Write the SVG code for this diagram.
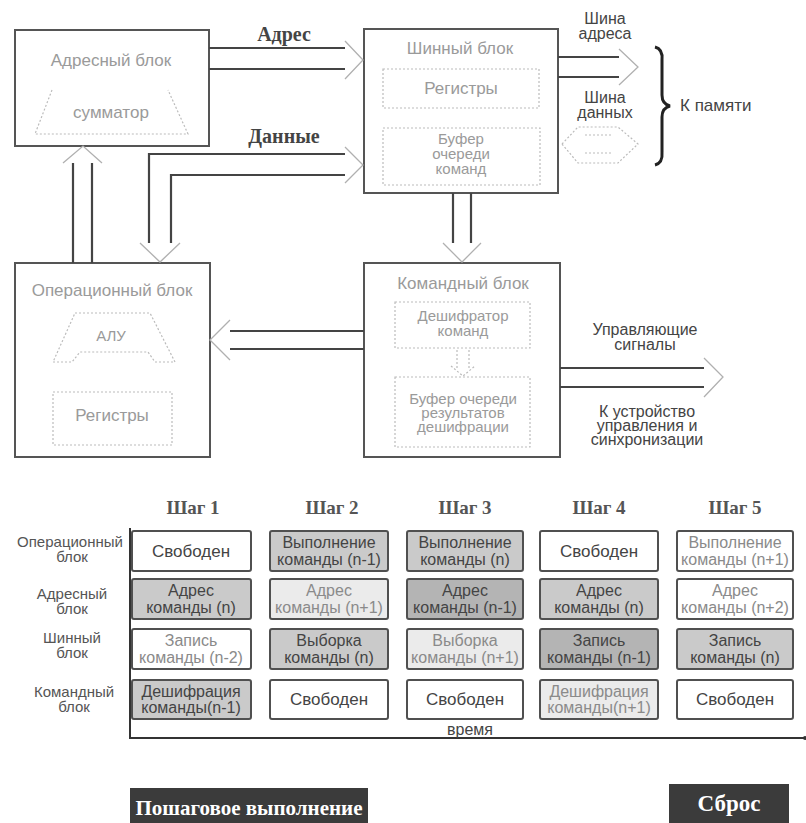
<svg xmlns="http://www.w3.org/2000/svg" width="806" height="823" viewBox="0 0 806 823">
<style>
text{font-family:"Liberation Sans",Arial,sans-serif;text-anchor:middle}
.box{fill:#fff;stroke:#555;stroke-width:2}
.inner{fill:none;stroke:#bbb;stroke-width:1.2;stroke-dasharray:2 2}
.title{font-size:17px;fill:#9a9a9a}
.itxt{font-size:15px;fill:#9a9a9a}
.shaft{stroke:#444;stroke-width:2.2;fill:none}
.head{stroke:#b0b0b0;stroke-width:1.3;fill:none}
.lbl{font-size:16px;fill:#444}
.bold{font-family:"Liberation Serif","Times New Roman",serif;font-weight:bold;font-size:20px;fill:#444}
.step{font-family:"Liberation Serif","Times New Roman",serif;font-weight:bold;font-size:19px;fill:#555}
.cell{stroke:#505050;stroke-width:2}
.w{fill:#fff}.g{fill:#cacaca}.l{fill:#ebebeb}.d{fill:#b4b4b4}
.ct{font-size:16px;fill:#444}
.cl{font-size:16px;fill:#8a8a8a}
.cs{font-size:17px;fill:#444}
.rl{font-size:15px;fill:#555}
.btn{fill:#3b3b3b}
.bt{font-family:"Liberation Serif","Times New Roman",serif;font-weight:bold;font-size:21px;fill:#fff}
</style>

<g id="addr-block">
<rect class="box" x="15" y="30" width="194" height="116"/>
<text class="title" x="111" y="66">Адресный блок</text>
<path class="inner" d="M52,90 L35,134 L188,134 L168,90"/>
<text class="title" x="111" y="118">сумматор</text>
</g>

<g id="bus-block">
<rect class="box" x="364" y="29" width="194" height="164"/>
<text class="title" x="460" y="54">Шинный блок</text>
<rect class="inner" x="383" y="69" width="156" height="39"/>
<text class="title" x="461" y="94">Регистры</text>
<rect class="inner" x="383" y="128" width="157" height="57"/>
<text class="itxt" x="461" y="144">Буфер</text>
<text class="itxt" x="461" y="159">очереди</text>
<text class="itxt" x="461" y="174">команд</text>
</g>

<g id="op-block">
<rect class="box" x="15" y="263" width="195" height="194"/>
<text class="title" x="112" y="296">Операционный блок</text>
<path class="inner" d="M75,313 L150,313 L175,362 L155,362 L148,352 L80,352 L72,362 L53,362 Z"/>
<text class="itxt" x="111" y="341">АЛУ</text>
<rect class="inner" x="53" y="392" width="119" height="53"/>
<text class="title" x="112" y="421">Регистры</text>
</g>

<g id="cmd-block">
<rect class="box" x="364" y="263" width="196" height="194"/>
<text class="title" x="463" y="289">Командный блок</text>
<rect class="inner" x="395" y="302" width="135" height="46"/>
<text class="itxt" x="463" y="321">Дешифратор</text>
<text class="itxt" x="463" y="336">команд</text>
<path class="inner" d="M457,350 L457,368 M469,350 L469,368 M451,366 L463,376 L475,366"/>
<rect class="inner" x="395" y="377" width="135" height="70"/>
<text class="itxt" x="463" y="404">Буфер очереди</text>
<text class="itxt" x="463" y="418">результатов</text>
<text class="itxt" x="463" y="432">дешифрации</text>
</g>

<g id="connectors">
<path class="shaft" d="M209,48 L345,48 M209,69 L345,69"/>
<polyline class="head" points="345,41 363,60 345,79"/>
<text class="bold" x="284" y="41">Адрес</text>
<path class="shaft" d="M345,154 L149,154 L149,243 M345,175 L171,175 L171,243"/>
<polyline class="head" points="345,147 363,165 345,183"/>
<polyline class="head" points="140,243 160,262 180,243"/>
<text class="bold" x="284" y="143">Данные</text>
<path class="shaft" d="M73,163 L73,263 M92,163 L92,263"/>
<polyline class="head" points="63,163 83,146 102,163"/>
<path class="shaft" d="M453,193 L453,243 M471,193 L471,243"/>
<polyline class="head" points="443,243 462,262 481,243"/>
<path class="shaft" d="M558,57 L619,57 M558,77 L619,77"/>
<polyline class="head" points="619,49 638,67 619,85"/>
<text class="lbl" x="605" y="24">Шина</text>
<text class="lbl" x="605" y="39">адреса</text>
<path class="inner" d="M562,144 L578,127 L618,127 L638,144 L618,163 L578,163 Z M585,135 L612,135 M585,153 L612,153"/>
<text class="lbl" x="605" y="103">Шина</text>
<text class="lbl" x="605" y="118">данных</text>
<path d="M655,47 Q663,49 662,60 L662,95 Q662,104 670,106 Q662,108 662,117 L662,152 Q663,163 655,165" fill="none" stroke="#222" stroke-width="3"/>
<text class="lbl" x="680" y="111" style="text-anchor:start;font-size:17px">К памяти</text>
<path class="shaft" d="M364,331 L230,331 M364,349 L230,349"/>
<polyline class="head" points="230,320 210,340 230,360"/>
<path class="shaft" d="M560,368 L704,368 M560,387 L704,387"/>
<polyline class="head" points="704,358 723,377 704,397"/>
<text class="lbl" x="645" y="335">Управляющие</text>
<text class="lbl" x="645" y="350">сигналы</text>
<text class="lbl" x="647" y="417">К устройство</text>
<text class="lbl" x="647" y="431">управления и</text>
<text class="lbl" x="647" y="445">синхронизации</text>
</g>

<g id="timeline">
<text class="step" x="193" y="514">Шаг 1</text>
<text class="step" x="332" y="514">Шаг 2</text>
<text class="step" x="465" y="514">Шаг 3</text>
<text class="step" x="599" y="514">Шаг 4</text>
<text class="step" x="735" y="514">Шаг 5</text>

<text class="rl" x="70" y="547">Операционный</text>
<text class="rl" x="72" y="562">блок</text>
<text class="rl" x="72" y="599">Адресный</text>
<text class="rl" x="72" y="614">блок</text>
<text class="rl" x="72" y="643">Шинный</text>
<text class="rl" x="72" y="658">блок</text>
<text class="rl" x="74" y="697">Командный</text>
<text class="rl" x="74" y="712">блок</text>

<path d="M130,528 L130,738 L805,738" fill="none" stroke="#333" stroke-width="2"/>
<circle cx="805" cy="738" r="2" fill="#333"/>
<text class="lbl" x="470" y="735">время</text>

<g id="c11"><rect class="cell w" x="132" y="531" width="119" height="40" rx="2"/><text class="cs" x="191" y="557">Свободен</text></g>
<g id="c12"><rect class="cell g" x="270" y="531" width="118" height="40" rx="2"/><text class="ct" x="329" y="548">Выполнение</text><text class="ct" x="329" y="565">команды (n-1)</text></g>
<g id="c13"><rect class="cell g" x="407" y="531" width="116" height="40" rx="2"/><text class="ct" x="465" y="548">Выполнение</text><text class="ct" x="465" y="565">команды (n)</text></g>
<g id="c14"><rect class="cell w" x="540" y="531" width="118" height="40" rx="2"/><text class="cs" x="599" y="557">Свободен</text></g>
<g id="c15"><rect class="cell w" x="677" y="531" width="116" height="40" rx="2"/><text class="cl" x="735" y="548">Выполнение</text><text class="cl" x="735" y="565">команды (n+1)</text></g>

<g id="c21"><rect class="cell g" x="132" y="579" width="119" height="40" rx="2"/><text class="ct" x="191" y="596">Адрес</text><text class="ct" x="191" y="613">команды (n)</text></g>
<g id="c22"><rect class="cell l" x="270" y="579" width="118" height="40" rx="2"/><text class="cl" x="329" y="596">Адрес</text><text class="cl" x="329" y="613">команды (n+1)</text></g>
<g id="c23"><rect class="cell d" x="407" y="579" width="116" height="40" rx="2"/><text class="ct" x="465" y="596">Адрес</text><text class="ct" x="465" y="613">команды (n-1)</text></g>
<g id="c24"><rect class="cell g" x="540" y="579" width="118" height="40" rx="2"/><text class="ct" x="599" y="596">Адрес</text><text class="ct" x="599" y="613">команды (n)</text></g>
<g id="c25"><rect class="cell w" x="677" y="579" width="116" height="40" rx="2"/><text class="cl" x="735" y="596">Адрес</text><text class="cl" x="735" y="613">команды (n+2)</text></g>

<g id="c31"><rect class="cell w" x="132" y="629" width="119" height="40" rx="2"/><text class="cl" x="191" y="646">Запись</text><text class="cl" x="191" y="663">команды (n-2)</text></g>
<g id="c32"><rect class="cell g" x="270" y="629" width="118" height="40" rx="2"/><text class="ct" x="329" y="646">Выборка</text><text class="ct" x="329" y="663">команды (n)</text></g>
<g id="c33"><rect class="cell l" x="407" y="629" width="116" height="40" rx="2"/><text class="cl" x="465" y="646">Выборка</text><text class="cl" x="465" y="663">команды (n+1)</text></g>
<g id="c34"><rect class="cell d" x="540" y="629" width="118" height="40" rx="2"/><text class="ct" x="599" y="646">Запись</text><text class="ct" x="599" y="663">команды (n-1)</text></g>
<g id="c35"><rect class="cell g" x="677" y="629" width="116" height="40" rx="2"/><text class="ct" x="735" y="646">Запись</text><text class="ct" x="735" y="663">команды (n)</text></g>

<g id="c41"><rect class="cell g" x="132" y="680" width="119" height="39" rx="2"/><text class="ct" x="191" y="697">Дешифрация</text><text class="ct" x="191" y="713">команды(n-1)</text></g>
<g id="c42"><rect class="cell w" x="270" y="680" width="118" height="39" rx="2"/><text class="cs" x="329" y="705">Свободен</text></g>
<g id="c43"><rect class="cell w" x="407" y="680" width="116" height="39" rx="2"/><text class="cs" x="465" y="705">Свободен</text></g>
<g id="c44"><rect class="cell l" x="540" y="680" width="118" height="39" rx="2"/><text class="cl" x="599" y="697">Дешифрация</text><text class="cl" x="599" y="713">команды(n+1)</text></g>
<g id="c45"><rect class="cell w" x="677" y="680" width="116" height="39" rx="2"/><text class="cs" x="735" y="705">Свободен</text></g>
</g>

<g id="btn-step">
<rect class="btn" x="130" y="788" width="238" height="35"/>
<text class="bt" x="249" y="815">Пошаговое выполнение</text>
</g>
<g id="btn-reset">
<rect class="btn" x="669" y="784" width="120" height="39"/>
<text class="bt" x="729" y="811" style="font-size:23px">Сброс</text>
</g>
</svg>
